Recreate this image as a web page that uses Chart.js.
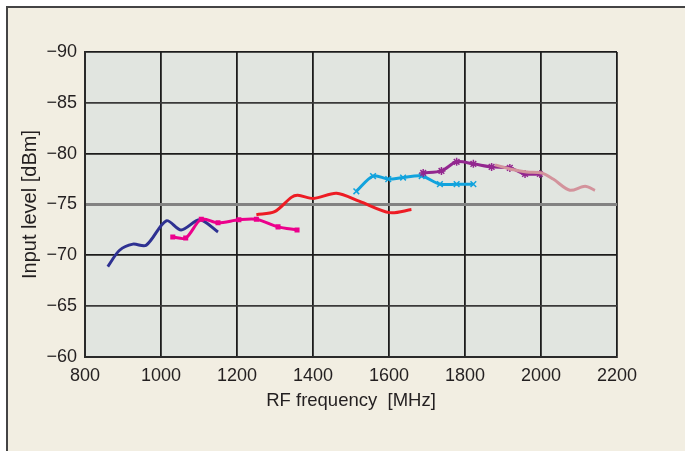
<!DOCTYPE html>
<html>
<head>
<meta charset="utf-8">
<script src="https://cdn.jsdelivr.net/npm/chart.js@4"></script>
<style>
  body { margin: 0; background: #fff; }
  #frame {
    position: absolute; left: 6px; top: 6px; width: 700px; height: 460px;
    background: #f2eee2; border: 2px solid #444;
  }
  #graf { position: absolute; left: 0; top: 0; }
</style>
</head>
<body>
<div id="frame"></div>
<canvas id="graf" width="685" height="451"></canvas>
<script>
// valores (MHz / dBm)
const blueFreq  = [860, 891, 926, 961, 1014, 1053, 1102, 1150];
const blueLevel = [-68.9, -70.5, -71.1, -71.0, -73.4, -72.5, -73.5, -72.3];

const pinkFreq  = [1031, 1065, 1106, 1150, 1205, 1251, 1308, 1358];
const pinkLevel = [-71.8, -71.7, -73.55, -73.2, -73.5, -73.55, -72.8, -72.5];

const redFreq  = [1251, 1299, 1343, 1360, 1402, 1462, 1523, 1602, 1659];
const redLevel = [-74.0, -74.3, -75.7, -75.9, -75.6, -76.1, -75.3, -74.2, -74.5];

const cyanFreq  = [1514, 1558, 1598, 1637, 1686, 1734, 1778, 1822];
const cyanLevel = [-76.3, -77.8, -77.5, -77.65, -77.8, -77.0, -77.0, -77.0];

const purpleFreq  = [1690, 1738, 1778, 1822, 1870, 1918, 1958, 1997];
const purpleLevel = [-78.1, -78.3, -79.2, -79.0, -78.7, -78.6, -78.0, -78.0];

const roseFreq  = [1879, 1918, 1962, 2002, 2032, 2076, 2116, 2142];
const roseLevel = [-78.9, -78.5, -78.2, -78.1, -77.5, -76.4, -76.8, -76.4];

const xTicks = [800, 1000, 1200, 1400, 1600, 1800, 2000, 2200];
const xTickLabels = ['800', '1000', '1200', '1400', '1600', '1800', '2000', '2200'];
const yTicks = [-90, -85, -80, -75, -70, -65, -60];
const yTickLabels = ['\u221290', '\u221285', '\u221280', '\u221275', '\u221270', '\u221265', '\u221260'];

const pontos = (fs, ls) => fs.map((f, i) => ({ x: f, y: ls[i] }));

const fundoPlot = {
  id: 'fundoPlot',
  beforeDraw(chart) {
    const a = chart.chartArea;
    const ctx = chart.ctx;
    ctx.save();
    ctx.fillStyle = '#e1e5e0';
    ctx.fillRect(a.left, a.top, a.right - a.left, a.bottom - a.top);
    ctx.restore();
  }
};

const familia = "'Liberation Sans', Arial, sans-serif";
const fonte = { family: familia, size: 18 };
const corTexto = '#231f20';

function serie(fs, ls, cor, estilo, raio, ordem) {
  return {
    data: pontos(fs, ls),
    borderColor: cor,
    backgroundColor: cor,
    borderWidth: 3,
    tension: 0.3,
    pointStyle: estilo,
    pointRadius: raio,
    pointBorderWidth: 1.5,
    order: ordem
  };
}

new Chart(document.getElementById('graf').getContext('2d'), {
  type: 'line',
  data: {
    datasets: [
      serie(blueFreq, blueLevel, '#2e3192', 'circle', 0, 6),
      serie(pinkFreq, pinkLevel, '#ec008c', 'rect', 2.5, 5),
      serie(redFreq, redLevel, '#ed1c24', 'circle', 0, 4),
      serie(cyanFreq, cyanLevel, '#12a3dd', 'crossRot', 4, 3),
      serie(purpleFreq, purpleLevel, '#93278f', 'star', 4, 2),
      serie(roseFreq, roseLevel, '#d3939c', 'circle', 0, 1)
    ]
  },
  options: {
    responsive: false,
    animation: false,
    layout: { padding: { left: 0, top: 52, right: 68, bottom: 0 } },
    plugins: { legend: { display: false }, tooltip: { enabled: false } },
    scales: {
      x: {
        type: 'linear',
        min: 800, max: 2200,
        afterFit: s => { s.height = 94; },
        ticks: {
          stepSize: 200,
          padding: 8,
          color: corTexto,
          font: fonte,
          maxRotation: 0,
          callback: v => xTickLabels[xTicks.indexOf(v)]
        },
        grid: { color: '#1c1c1c', lineWidth: 1.8, drawTicks: false },
        border: { color: '#2a2a2a', width: 2 },
        title: {
          display: true,
          text: 'RF frequency  [MHz]',
          color: corTexto,
          font: { family: familia, size: 18.5 },
          padding: { top: 0, bottom: 39 }
        }
      },
      y: {
        min: -90, max: -60,
        reverse: true,
        afterFit: s => { s.width = 85; },
        ticks: {
          stepSize: 5,
          padding: 8,
          color: corTexto,
          font: fonte,
          callback: v => yTickLabels[yTicks.indexOf(v)]
        },
        grid: {
          drawTicks: false,
          color: c => c.tick && c.tick.value === -75 ? '#828282' : (c.tick && (c.tick.value === -85 || c.tick.value === -65) ? '#3a3a3a' : '#1c1c1c'),
          lineWidth: c => c.tick && c.tick.value === -75 ? 3 : 1.8
        },
        border: { color: '#2a2a2a', width: 2 },
        title: {
          display: true,
          text: 'Input level [dBm]',
          color: corTexto,
          font: { family: familia, size: 20 },
          padding: { top: 18, bottom: 0 }
        }
      }
    }
  },
  plugins: [fundoPlot]
});
</script>
</body>
</html>
